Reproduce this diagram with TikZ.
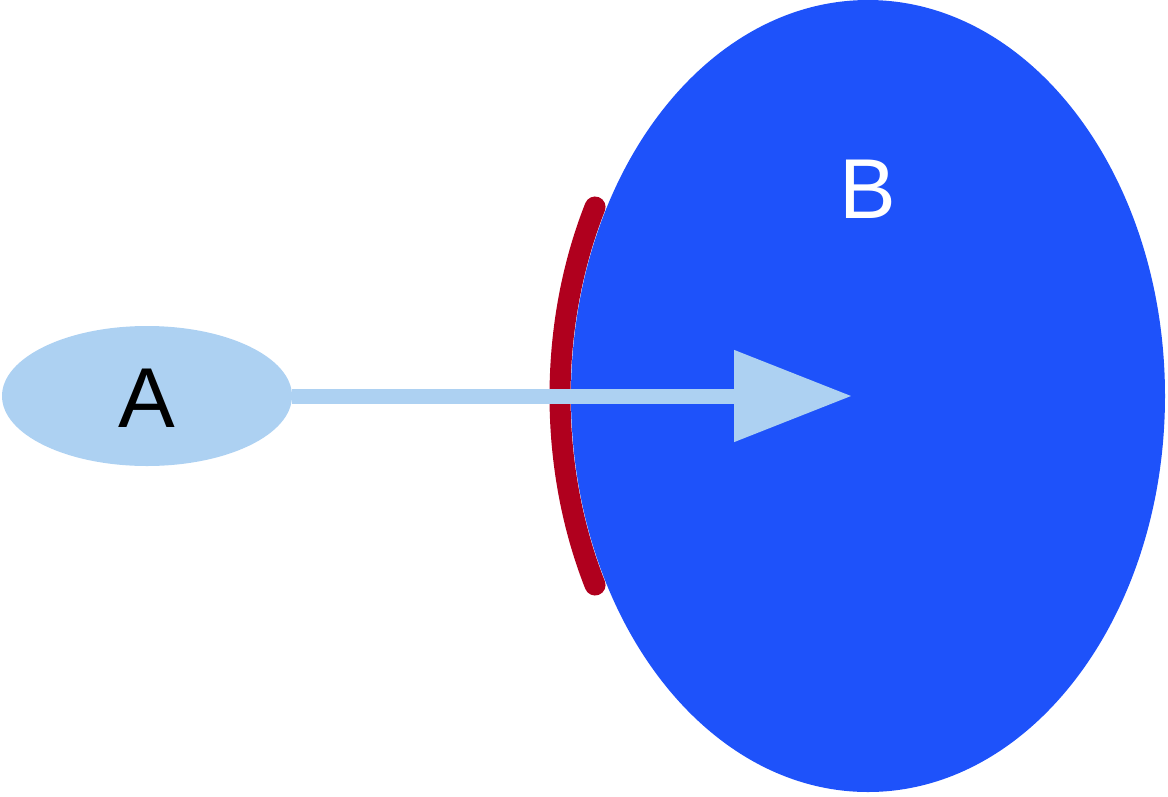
\documentclass[tikz,border=0pt]{standalone}
\usepackage{fontspec}
\setmainfont{Liberation Sans}
\usetikzlibrary{shapes.geometric,arrows.meta}
\definecolor{lightA}{HTML}{ADD1F2}
\definecolor{blueB}{HTML}{1E52FA}
\definecolor{redArc}{HTML}{B0001E}
\tikzset{
  ell/.style={ellipse, inner sep=0pt, draw=none},
  lbl/.style={font=\fontsize{85}{90}\selectfont, inner sep=0pt, anchor=base},
}
\begin{document}
\begin{tikzpicture}[x=1pt,y=-1pt]
\useasboundingbox (0,0) rectangle (1168,796);
% red arc (drawn behind B)
\draw[redArc, line width=21pt, line cap=round]
  (868,396) ++(152.4:308 and 408) arc[start angle=152.4, end angle=207.6, x radius=308, y radius=408];
\node[ell, fill=blueB, minimum width=594pt, minimum height=792pt] (B) at (868,396) {};
\node[ell, fill=lightA, minimum width=290pt, minimum height=140pt] (A) at (147,396) {};
\coordinate (tip) at (852,396);
\draw[lightA, line width=15pt, -{Triangle[length=118pt, width=88pt]}] (A.east) -- (tip);
\node[lbl, black] (Atext) at (147,427) {A};
\node[lbl, white] (Btext) at (868,218) {B};
\end{tikzpicture}
\end{document}
